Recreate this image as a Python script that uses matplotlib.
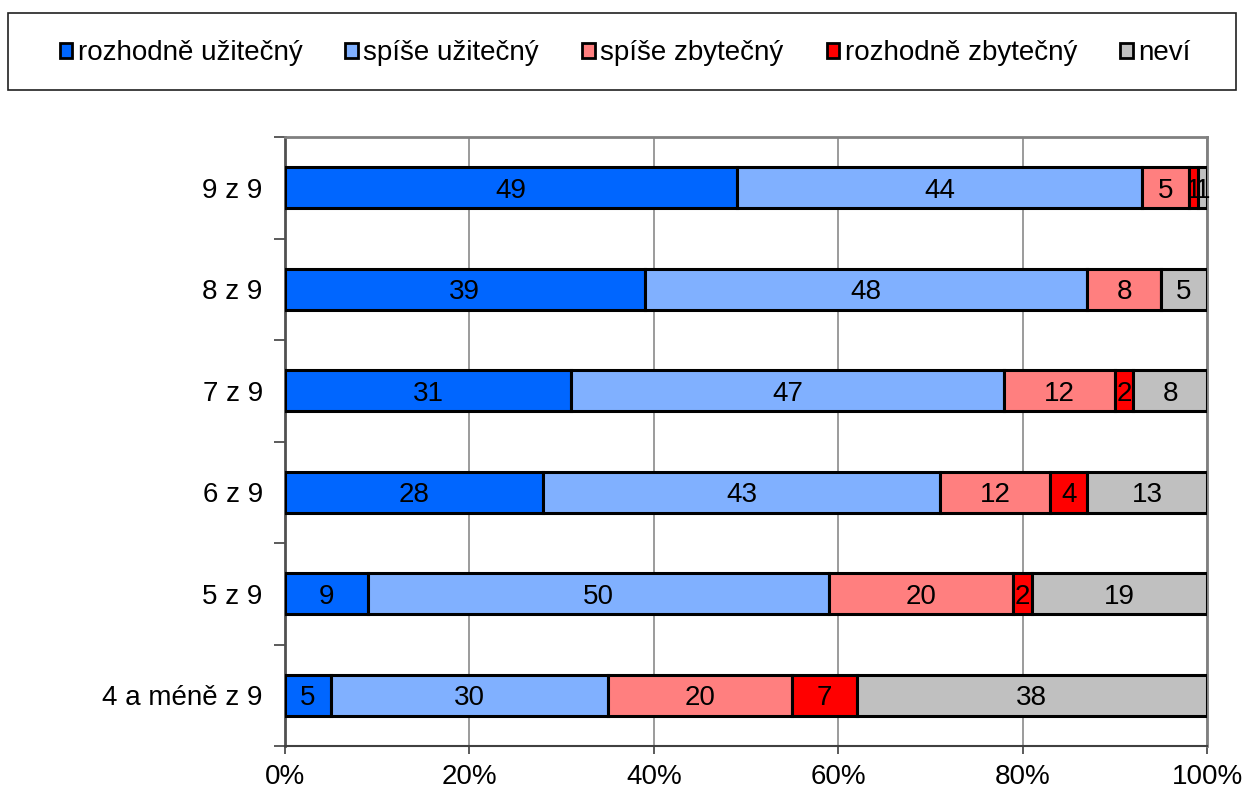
import matplotlib
matplotlib.use("Agg")
import matplotlib.pyplot as plt
from matplotlib.patches import Rectangle, Patch
import numpy as np

plt.rcParams['font.family'] = ['Liberation Sans', 'DejaVu Sans']

categories = ["9 z 9", "8 z 9", "7 z 9", "6 z 9", "5 z 9", "4 a méně z 9"]
series_names = ["rozhodně užitečný", "spíše užitečný", "spíše zbytečný", "rozhodně zbytečný", "neví"]
rozhodne_uzitecny = [49, 39, 31, 28, 9, 5]
spise_uzitecny = [44, 48, 47, 43, 50, 30]
spise_zbytecny = [5, 8, 12, 12, 20, 20]
rozhodne_zbytecny = [1, 0, 2, 4, 2, 7]
nevi = [1, 5, 8, 13, 19, 38]
x_ticks = [0, 20, 40, 60, 80, 100]
x_ticklabels = ["0%", "20%", "40%", "60%", "80%", "100%"]

series = [rozhodne_uzitecny, spise_uzitecny, spise_zbytecny, rozhodne_zbytecny, nevi]
colors = ["#0066FF", "#80B0FF", "#FF7F7F", "#FF0000", "#C0C0C0"]

FS = 20

fig = plt.figure(figsize=(12.44, 7.89), dpi=100)
ax = fig.add_axes([285/1244, 1-746/789, (1207-285)/1244, (746-137)/789])

n = len(categories)
ypos = np.arange(n)[::-1]  # first category on top
left = np.zeros(n)
for vals, col, name in zip(series, colors, series_names):
    v = np.array(vals, dtype=float)
    ax.barh(ypos, v, left=left, height=0.4, color=col, edgecolor="black",
            linewidth=2.2, zorder=3, label=name)
    for y, l, w in zip(ypos, left, v):
        if w > 0:
            ax.text(l + w/2, y, f"{int(w)}", ha="center", va="center_baseline",
                    fontsize=FS, color="black", zorder=4)
    left += v

ax.set_xlim(0, 100)
ax.set_ylim(-0.5, n - 0.5)
ax.set_xticks(x_ticks)
ax.set_xticklabels(x_ticklabels, fontsize=FS)
ax.xaxis.grid(True, color="#808080", linewidth=1.1, zorder=0)
ax.tick_params(axis="x", direction="out", length=6, width=1.2, color="#404040", pad=7)

ax.set_yticks(np.arange(-0.5, n, 1.0))
ax.set_yticklabels([])
ax.set_yticks(ypos, minor=True)
ax.set_yticklabels(categories, minor=True, fontsize=FS, va="center_baseline")
ax.tick_params(axis="y", which="major", direction="out", length=8, width=1.2, color="#404040")
ax.tick_params(axis="y", which="minor", length=0, pad=16)

for s in ["top", "right"]:
    ax.spines[s].set_color("#808080")
    ax.spines[s].set_linewidth(2)
ax.spines["left"].set_color("#505050")
ax.spines["left"].set_linewidth(2)
ax.spines["bottom"].set_color("#404040")
ax.spines["bottom"].set_linewidth(1.5)

# legend frame
fig.patches.append(Rectangle((8/1244, 1-90/789), (1236-8)/1244, 77/789,
                             transform=fig.transFigure, fill=False,
                             edgecolor="#202020", linewidth=1.2))
handles = [Patch(facecolor=c, edgecolor="black", linewidth=2.0) for c in colors]
fig.legend(handles, series_names, loc="center", bbox_to_anchor=(625/1244, 1-53/789),
           ncol=5, frameon=False, fontsize=FS, handlelength=0.45, handleheight=0.45,
           handletextpad=0.2, columnspacing=1.55, borderpad=0)

fig.savefig("out.png", dpi=100)
